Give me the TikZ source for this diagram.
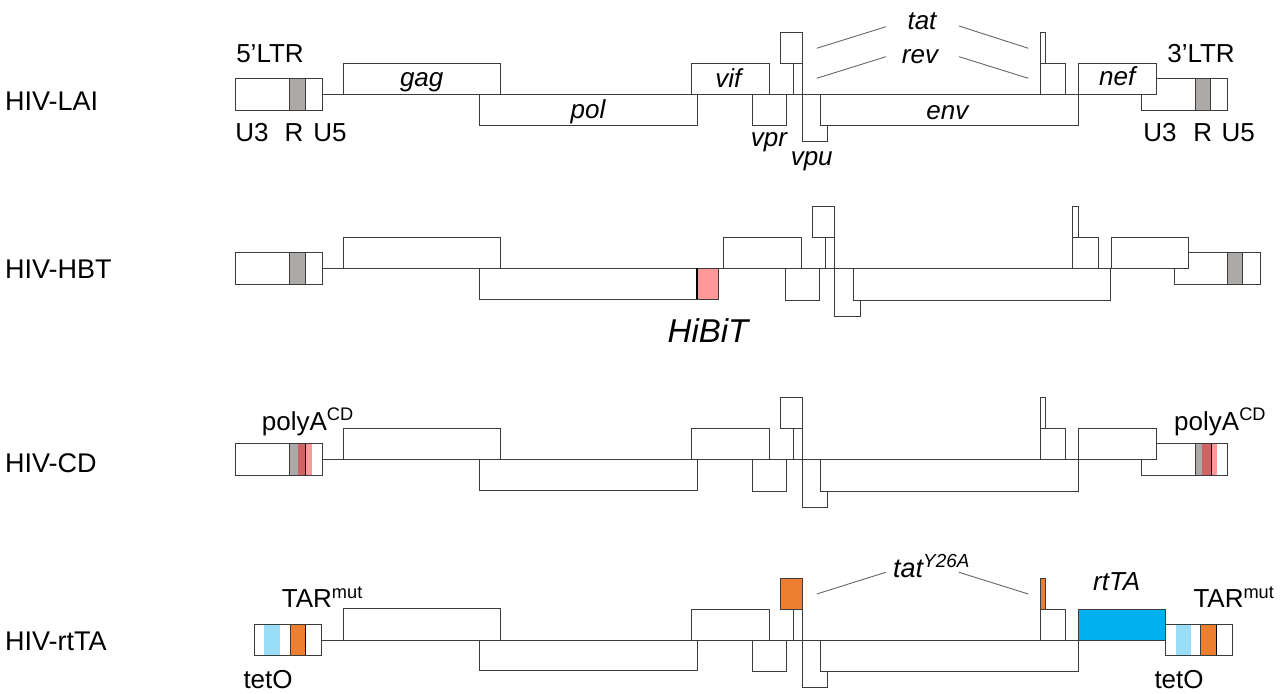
\documentclass[tikz,border=0pt]{standalone}
\usepackage{fontspec}
\setmainfont{Liberation Sans}
\definecolor{rgray}{RGB}{173,169,167}
\definecolor{hpink}{RGB}{255,153,153}
\definecolor{cdred}{RGB}{208,100,100}
\definecolor{lcyan}{RGB}{153,221,247}
\definecolor{torange}{RGB}{237,125,49}
\definecolor{rtblue}{RGB}{0,176,240}
\definecolor{edge}{RGB}{60,60,60}
\tikzset{
  gbox/.style={draw=edge, fill=white, line width=0.9pt},
  gline/.style={draw=edge, line width=0.9pt},
  bandline/.style={draw=black, line width=0.9pt},
  ptr/.style={draw=black!60, line width=0.9pt},
  glbl/.style={font=\fontsize{26}{31}\selectfont\itshape, inner sep=0pt},
  lbl/.style={font=\fontsize{26}{31}\selectfont, inner sep=0pt},
  rowlbl/.style={font=\fontsize{27}{32}\selectfont, inner sep=0pt, anchor=base west},
}
% vif ... rev (second exon); #1 = fill colour of the tat exons
\newcommand\hivmid[1]{%
  \draw[gbox] (691,-30.7) rectangle (769,0);
  \draw[gbox] (752.7,0) rectangle (786.7,31.7);
  \draw[gbox, fill=#1] (780,-61.7) rectangle (802.3,-30.7);
  \draw[gbox] (793.3,-30.7) rectangle (802.3,0);
  \draw[gbox] (802.3,0) rectangle (827.7,47.7);
  \draw[gbox] (820.7,0) rectangle (1078.3,31.7);
  \draw[gbox, fill=#1] (1040,-61.7) rectangle (1045.7,-30.7);
  \draw[gbox] (1040,-30.7) rectangle (1065.7,0);
}
\begin{document}
\begin{tikzpicture}[x=1pt, y=-1pt]
\useasboundingbox (0,0) rectangle (1281,693);

% ---------------- HIV-LAI ----------------
\begin{scope}[shift={(0,94)}]
  \draw[gline] (322,0) -- (1142,0);
  \draw[gbox] (235,-15.7) rectangle (322,16);
  \draw[gbox, fill=rgray] (289.3,-15.7) rectangle (305.7,16);
  \draw[gbox] (479,0) rectangle (697.3,31.7);
  \draw[gbox] (343.7,-30.7) rectangle (500,0);
  \hivmid{white}
  \draw[gbox] (1141.7,-15.7) rectangle (1227.3,16);
  \draw[gbox, fill=rgray] (1195.3,-15.7) rectangle (1210.7,16);
  \draw[gbox] (1078.3,-30.7) rectangle (1156.7,0);
\end{scope}
\node[rowlbl] (lai) at (5,110) {HIV-LAI};
\node[lbl, anchor=base] (ltr5) at (270,62.7) {5’LTR};
\node[lbl, anchor=base] (u3a) at (252,141.7) {U3};
\node[lbl, anchor=base] (ra) at (294,141.7) {R};
\node[lbl, anchor=base] (u5a) at (330,141.7) {U5};
\node[lbl, anchor=base] (ltr3) at (1201,62.7) {3’LTR};
\node[lbl, anchor=base] (u3b) at (1160,141.7) {U3};
\node[lbl, anchor=base] (rb) at (1202.7,141.7) {R};
\node[lbl, anchor=base] (u5b) at (1238.3,141.7) {U5};
\node[glbl, anchor=base] (gag) at (421.7,86.7) {gag};
\node[glbl, anchor=base] (pol) at (588,118) {pol};
\node[glbl, anchor=base] (vif) at (728.3,87.3) {vif};
\node[glbl, anchor=base] (vpr) at (769,146) {vpr};
\node[glbl, anchor=base] (vpu) at (811.7,165.7) {vpu};
\node[glbl, anchor=base] (env) at (947.3,119) {env};
\node[glbl, anchor=base] (nef) at (1117.3,85.7) {nef};
\node[glbl, anchor=base] (tat) at (922,29.3) {tat};
\node[glbl, anchor=base] (rev) at (920,63.3) {rev};
\coordinate (tatL1) at (816.7,48.3); \coordinate (tatL2) at (886,26.7);
\coordinate (tatR1) at (959,26);     \coordinate (tatR2) at (1028.3,48.3);
\coordinate (revL1) at (816.7,78.3); \coordinate (revL2) at (886,56.7);
\coordinate (revR1) at (959,56.7);   \coordinate (revR2) at (1028.3,78.3);
\draw[ptr] (tatL1) -- (tatL2);
\draw[ptr] (tatR1) -- (tatR2);
\draw[ptr] (revL1) -- (revL2);
\draw[ptr] (revR1) -- (revR2);

% ---------------- HIV-HBT ----------------
\begin{scope}[shift={(0,268.3)}]
  \draw[gline] (322,0) -- (1174,0);
  \draw[gbox] (235,-15.7) rectangle (322,16);
  \draw[gbox, fill=rgray] (289.3,-15.7) rectangle (305.7,16);
  \draw[gbox] (479,0) rectangle (696.7,31);
  \draw[gbox] (343.7,-31) rectangle (500,0);
  \draw[gbox, fill=hpink] (696.7,0) rectangle (718.3,31);
  \draw[draw=black, line width=1.6pt] (696.7,0) -- (696.7,31);
  \begin{scope}[shift={(32.3,0)}]
    \hivmid{white}
    \draw[gbox] (1141.7,-15.7) rectangle (1228.4,16);
    \draw[gbox, fill=rgray] (1195,-15.7) rectangle (1210.4,16);
    \draw[gbox] (1079.4,-31) rectangle (1156.4,0);
  \end{scope}
\end{scope}
\node[rowlbl] (hbt) at (5,278) {HIV-HBT};
\node[glbl, font=\fontsize{33}{38}\selectfont\itshape, anchor=base] (hibit) at (708,342) {HiBiT};

% ---------------- HIV-CD ----------------
\begin{scope}[shift={(0,459.3)}]
  \draw[gline] (322,0) -- (1142,0);
  \draw[gbox] (235,-15.7) rectangle (322,16);
  \fill[rgray] (289.3,-15.7) rectangle (297.7,16);
  \fill[cdred] (297.7,-15.7) rectangle (305.7,16);
  \fill[hpink] (305.7,-15.7) rectangle (312.3,16);
  \draw[gline] (289.3,-15.7) -- (289.3,16);
  \draw[bandline] (305.7,-15.7) -- (305.7,16);
  \draw[gline] (235,-15.7) rectangle (322,16);
  \draw[gbox] (479,0) rectangle (697.3,30.7);
  \draw[gbox] (343.7,-31) rectangle (500,0);
  \hivmid{white}
  \draw[gbox] (1141.7,-15.7) rectangle (1227.3,16);
  \fill[rgray] (1195.7,-15.7) rectangle (1201.7,16);
  \fill[cdred] (1201.7,-15.7) rectangle (1211,16);
  \fill[hpink] (1211,-15.7) rectangle (1217.3,16);
  \draw[gline] (1195.7,-15.7) -- (1195.7,16);
  \draw[bandline] (1211,-15.7) -- (1211,16);
  \draw[gline] (1141.7,-15.7) rectangle (1227.3,16);
  \draw[gbox] (1078.3,-31) rectangle (1156,0);
\end{scope}
\node[rowlbl] (cd) at (5,472) {HIV-CD};
\node[lbl, anchor=base west] (pa5) at (261.7,430) {polyA\textsuperscript{CD}};
\node[lbl, anchor=base west] (pa3) at (1174,430) {polyA\textsuperscript{CD}};

% ---------------- HIV-rtTA ----------------
\begin{scope}[shift={(0,640)}]
  \draw[gline] (321.7,0) -- (1078.3,0);
  \draw[gbox] (254,-15.7) rectangle (321.7,15);
  \fill[lcyan] (264.3,-15.7) rectangle (280,15);
  \fill[torange] (290,-15.7) rectangle (305.7,15);
  \draw[gline] (290,-15.7) -- (290,15);
  \draw[bandline] (305.7,-15.7) -- (305.7,15);
  \draw[gline] (254,-15.7) rectangle (321.7,15);
  \draw[gbox] (479,0) rectangle (697.3,30.7);
  \draw[gbox] (343.7,-31.7) rectangle (500,0);
  \hivmid{torange}
  \draw[gbox, fill=rtblue] (1078.3,-31) rectangle (1165,0);
  \draw[gbox] (1165,-15.7) rectangle (1232.7,15.7);
  \fill[lcyan] (1176,-15.7) rectangle (1191,15.7);
  \fill[torange] (1200.7,-15.7) rectangle (1216.7,15.7);
  \draw[gline] (1200.7,-15.7) -- (1200.7,15.7);
  \draw[bandline] (1216.7,-15.7) -- (1216.7,15.7);
  \draw[gline] (1165,-15.7) rectangle (1232.7,15.7);
\end{scope}
\node[rowlbl] (rt) at (5,650) {HIV-rtTA};
\node[lbl, anchor=base west] (tar5) at (281.7,607.3) {TAR\textsuperscript{mut}};
\node[lbl, anchor=base west] (tar3) at (1193.3,607.3) {TAR\textsuperscript{mut}};
\node[lbl, anchor=base west] (teto5) at (243.3,688) {tetO};
\node[lbl, anchor=base west] (teto3) at (1154.3,688) {tetO};
\node[glbl, font=\fontsize{27}{32}\selectfont\itshape, anchor=base west] (taty) at (893,577) {tat\textsuperscript{Y26A}};
\node[glbl, anchor=base] (rtta) at (1116.7,590.7) {rtTA};
\coordinate (tyL1) at (816.7,594); \coordinate (tyL2) at (885.7,572.3);
\coordinate (tyR1) at (959,572.3); \coordinate (tyR2) at (1028.3,594);
\draw[ptr] (tyL1) -- (tyL2);
\draw[ptr] (tyR1) -- (tyR2);
\end{tikzpicture}
\end{document}
